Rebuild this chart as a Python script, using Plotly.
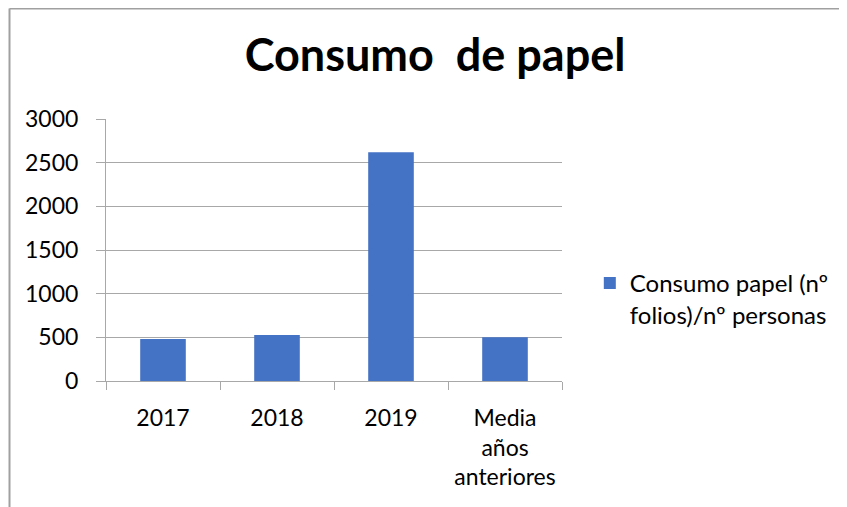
import plotly.graph_objects as go

categories = ["2017", "2018", "2019", "Media<br>años<br>anteriores"]
values = [481, 528, 2619, 500]
series_name = "Consumo papel (nº<br>folios)/nº personas"
title_text = "Consumo  de papel"
y_ticks = [0, 500, 1000, 1500, 2000, 2500, 3000]

FONT = "Lato"
GRID = "#a8a8a8"

fig = go.Figure()
fig.add_trace(go.Bar(
    x=categories, y=values, name=series_name,
    marker=dict(color="#4472C4", line=dict(width=0)),
    showlegend=True,
))

fig.update_layout(
    width=839, height=499,
    margin=dict(l=98, r=285, t=111, b=126),
    paper_bgcolor="white", plot_bgcolor="white",
    font=dict(family=FONT, size=23, color="#000000"),
    bargap=0.6,
    title=dict(text=title_text, x=0.509, xref="container", xanchor="center",
               y=0.906, yref="container", yanchor="middle",
               font=dict(family=FONT, size=45, color="#000000", weight="bold")),
    showlegend=True,
    legend=dict(x=1.061, xanchor="left", y=0.458, yanchor="top", valign="top",
                font=dict(family=FONT, size=24, color="#000000"),
                bgcolor="rgba(0,0,0,0)", itemwidth=30),
    xaxis=dict(type="category", tickson="boundaries", ticks="outside", ticklen=8,
               tickcolor=GRID, showline=True, linecolor=GRID, linewidth=1,
               showgrid=False, tickfont=dict(family=FONT, size=23),
               ticklabelstandoff=16),
    yaxis=dict(range=[0, 3000], tickvals=y_ticks, ticks="outside", ticklen=9,
               tickcolor=GRID, showline=True, linecolor=GRID, linewidth=1,
               showgrid=True, gridcolor=GRID, gridwidth=1, zeroline=False,
               tickfont=dict(family=FONT, size=23), ticklabelstandoff=13),
    shapes=[
        dict(type="line", xref="paper", yref="paper", x0=-0.2116, x1=1.7,
             y0=1.4218, y1=1.4218, line=dict(color="#a0a0a0", width=2)),
        dict(type="line", xref="paper", yref="paper", x0=-0.2116, x1=-0.2116,
             y0=1.4218, y1=-0.6, line=dict(color="#a0a0a0", width=2)),
    ],
)

fig.write_html("out.html")
